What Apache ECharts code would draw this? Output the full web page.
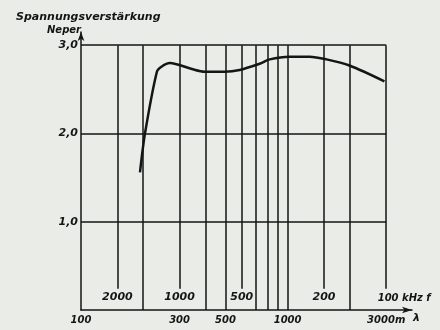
<!DOCTYPE html>
<html>
<head>
<meta charset="utf-8">
<script src="https://cdn.jsdelivr.net/npm/echarts@6.0.0/dist/echarts.min.js"></script>
<style>
  html, body { margin: 0; padding: 0; background: #e9ece7; }
  #chart { width: 440px; height: 330px; }
</style>
</head>
<body>
<div id="chart"></div>
<script>
// wavelength in m (log axis), gain in Neper
const curveLambda = [193, 204, 233, 246, 269, 344, 397, 496, 586, 732, 819, 1023, 1277, 1543, 1993, 2942];
const curveNeper = [1.56, 2.00, 2.70, 2.76, 2.80, 2.73, 2.70, 2.70, 2.72, 2.79, 2.84, 2.87, 2.87, 2.84, 2.77, 2.59];

const yTicks = [1, 2, 3];
const lambdaLabels = [100, 300, 500, 1000, 3000];
const freqLabels = [2000, 1000, 500, 200, 100]; // kHz
const freqLambda = [150, 300, 600, 1500, 3000]; // matching wavelengths
const fullGridLambda = [200, 400, 500, 700, 800, 900, 1000, 2000];

const ink = '#151515';
const font = { fontFamily: 'DejaVu Sans', fontStyle: 'italic', fontWeight: 'bold', color: ink };

const segs = [];
fullGridLambda.forEach(l => segs.push([{ coord: [l, 0] }, { coord: [l, 3] }]));
freqLambda.forEach(l => segs.push([{ coord: [l, 0.24] }, { coord: [l, 3] }]));
yTicks.forEach(v => segs.push([{ coord: [100, v] }, { coord: [3000, v] }]));

const chart = echarts.init(document.getElementById('chart'));
chart.setOption({
  animation: false,
  backgroundColor: '#e9ece7',
  title: {
    text: 'Spannungsverstärkung',
    left: 11,
    top: 7,
    textStyle: Object.assign({ fontSize: 11 }, font)
  },
  grid: { left: 81, right: 28, top: 32, bottom: 20 },
  xAxis: [{
    type: 'log',
    logBase: 10,
    min: 100,
    max: 4000,
    name: 'λ',
    nameLocation: 'end',
    nameGap: 1,
    nameTextStyle: Object.assign({ fontSize: 11, verticalAlign: 'top', padding: [3, 0, 0, 0] }, font),
    axisLine: { lineStyle: { color: ink, width: 1.5 }, symbol: ['none', 'arrow'], symbolSize: [5, 10] },
    axisTick: { show: false },
    splitLine: { show: false },
    axisLabel: Object.assign({ customValues: lambdaLabels, fontSize: 10, margin: 5,
      formatter: v => v === 3000 ? v + 'm' : String(v) }, font)
  }, {
    type: 'log',
    logBase: 10,
    min: 100,
    max: 4000,
    position: 'bottom',
    axisLine: { show: false },
    axisTick: { show: false },
    splitLine: { show: false },
    axisLabel: Object.assign({ customValues: freqLambda, inside: true, fontSize: 11, margin: 7,
      formatter: v => {
        const f = freqLabels[freqLambda.indexOf(v)];
        return f === 100 ? '{a|100 kHz f}' : String(f);
      },
      rich: { a: Object.assign({ fontSize: 10, padding: [0, 0, 0, 36] }, font) } }, font)
  }],
  yAxis: {
    type: 'value',
    min: 0,
    max: 3.15,
    interval: 1,
    name: 'Neper',
    nameLocation: 'end',
    nameGap: 1,
    nameTextStyle: Object.assign({ fontSize: 10, align: 'right', padding: [0, 0, -4, 0] }, font),
    axisLine: { show: true, lineStyle: { color: ink, width: 1.5 }, symbol: ['none', 'arrow'], symbolSize: [5, 9] },
    axisTick: { show: false },
    splitLine: { show: false },
    axisLabel: Object.assign({ fontSize: 11, margin: 3,
      formatter: v => yTicks.includes(v) ? v.toFixed(1).replace('.', ',') : '' }, font)
  },
  series: [{
    type: 'line',
    data: curveLambda.map((l, i) => [l, curveNeper[i]]),
    smooth: 0.3,
    symbol: 'none',
    lineStyle: { color: ink, width: 2.5 },
    markLine: {
      silent: true,
      symbol: ['none', 'none'],
      label: { show: false },
      lineStyle: { color: ink, width: 1.5, type: 'solid' },
      data: segs
    }
  }]
});
</script>
</body>
</html>
